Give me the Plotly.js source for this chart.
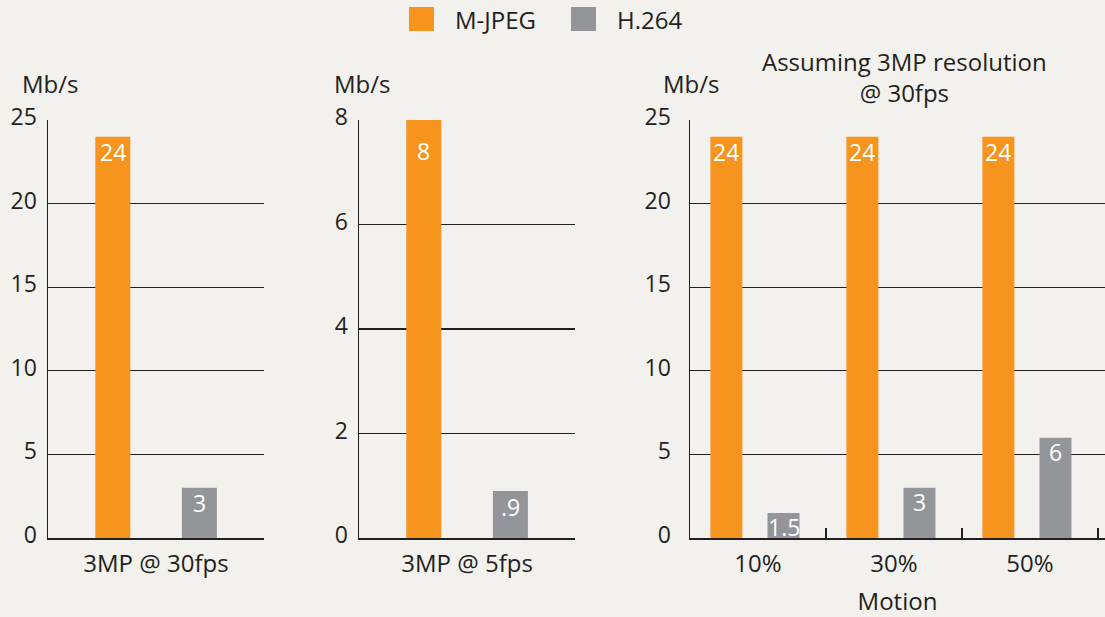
<!DOCTYPE html>
<html>
<head>
<meta charset="utf-8">
<script src="https://cdn.plot.ly/plotly-3.0.1.min.js"></script>
<style>html,body{margin:0;padding:0;background:#f3f1ed;}#chart{width:1105px;height:617px;}</style>
</head>
<body>
<div id="chart"></div>
<script>
// ---- data ----
const seriesNames = ["M-JPEG", "H.264"];
const cat1 = ["3MP @ 30fps"];
const mjpeg1 = [24];
const h2641 = [3];
const mjpegLabels1 = ["24"];
const h264Labels1 = ["3"];

const cat2 = ["3MP @ 5fps"];
const mjpeg2 = [8];
const h2642 = [0.9];
const mjpegLabels2 = ["8"];
const h264Labels2 = [".9"];

const cat3 = ["10%", "30%", "50%"];
const mjpeg3 = [24, 24, 24];
const h2643 = [1.5, 3, 6];
const mjpegLabels3 = ["24", "24", "24"];
const h264Labels3 = ["1.5", "3", "6"];

const yTicks12 = [0, 5, 10, 15, 20, 25];
const yTicks2 = [0, 2, 4, 6, 8];
const unitLabel = "Mb/s";
const panel3Title = "Assuming 3MP resolution<br>@ 30fps";
const panel3XTitle = "Motion";

// ---- style ----
const ORANGE = "#f7941d", GRAY = "#939598", INK = "#231f20", BG = "#f3f1ed";
const FONT = "Open Sans";
const FS = 24;
const W = 1105, H = 617;
const px = v => v / W, py = v => 1 - v / H;

// bar geometry (in category units) per panel; label vertical shifts in px per series
const panels = [
  {cats: cat1, series: [[mjpeg1, mjpegLabels1], [h2641, h264Labels1]], xa: "x", ya: "y", offs: [-0.281, 0.12], w: 0.162, labelShift: [2, 2]},
  {cats: cat2, series: [[mjpeg2, mjpegLabels2], [h2642, h264Labels2]], xa: "x2", ya: "y2", offs: [-0.281, 0.12], w: 0.162, labelShift: [-14, 1]},
  {cats: cat3, series: [[mjpeg3, mjpegLabels3], [h2643, h264Labels3]], xa: "x3", ya: "y3", offs: [-0.35, 0.07], w: 0.235, labelShift: [2, 3]}
];
const colors = [ORANGE, GRAY];

const data = [];
const annotations = [];
panels.forEach(p => {
  p.series.forEach(([vals, labels], s) => {
    data.push({
      type: "bar", x: p.cats, y: vals, xaxis: p.xa, yaxis: p.ya,
      marker: {color: colors[s], line: {width: 0}},
      offset: p.offs[s], width: p.w, showlegend: false, hoverinfo: "x+y"
    });
    vals.forEach((v, i) => annotations.push({
      xref: p.xa, yref: p.ya, x: i + p.offs[s] + p.w / 2, y: v,
      xanchor: "center", yanchor: "top", yshift: p.labelShift[s], borderpad: 0,
      text: labels[i], showarrow: false,
      font: {family: FONT, size: 23, color: "#ffffff"}
    }));
  });
});

const ydom = [py(538), py(120)];
function xAxis(dom, range, anchor, title) {
  const a = {
    domain: dom, range: range, anchor: anchor, type: "category",
    showline: true, linecolor: INK, linewidth: 1.5, mirror: false,
    ticks: "inside", tickson: "boundaries", ticklen: 10, tickwidth: 1.2, tickcolor: INK,
    showgrid: false, zeroline: false, automargin: false, fixedrange: true,
    ticklabelstandoff: 4,
    tickfont: {family: FONT, size: FS, color: INK}
  };
  if (title) a.title = {text: title, font: {family: FONT, size: FS, color: INK}, standoff: 22};
  return a;
}
function yAxis(range, ticks, anchor, standoff) {
  return {
    domain: ydom, range: range, anchor: anchor, tickvals: ticks, ticktext: ticks.map(String),
    showline: true, linecolor: INK, linewidth: 1.5, ticks: "",
    showgrid: true, gridcolor: INK, gridwidth: 1.2, zeroline: false,
    automargin: false, fixedrange: true, ticklabelstandoff: standoff, ticklabelshift: -3,
    tickfont: {family: FONT, size: 23, color: INK}
  };
}

const legendItems = [
  {name: seriesNames[0], color: ORANGE, sx: 409, tx: 453},
  {name: seriesNames[1], color: GRAY, sx: 571, tx: 615}
];
const shapes = legendItems.map(it => ({
  type: "rect", xref: "paper", yref: "paper",
  x0: px(it.sx), x1: px(it.sx + 25), y0: py(31), y1: py(7),
  fillcolor: it.color, line: {width: 0}
}));
legendItems.forEach(it => annotations.push({
  xref: "paper", yref: "paper", x: px(it.tx), y: py(19), xanchor: "left", yanchor: "middle",
  text: it.name, showarrow: false, font: {family: FONT, size: FS, color: INK}
}));
[20, 332, 661].forEach(x => annotations.push({
  xref: "paper", yref: "paper", x: px(x), y: py(84), xanchor: "left", yanchor: "middle",
  text: unitLabel, showarrow: false, font: {family: FONT, size: FS, color: INK}
}));
annotations.push({
  xref: "paper", yref: "paper", x: px(904), y: py(77), xanchor: "center", yanchor: "middle",
  text: panel3Title, showarrow: false, font: {family: FONT, size: FS, color: INK}
});

const layout = {
  width: W, height: H, margin: {l: 0, r: 0, t: 0, b: 0},
  paper_bgcolor: BG, plot_bgcolor: BG, showlegend: false,
  barmode: "group",
  xaxis: xAxis([px(48), px(264)], [-0.5, 0.5], "y"),
  yaxis: yAxis([0, 25], yTicks12, "x", 5),
  xaxis2: xAxis([px(359), px(575)], [-0.5, 0.5], "y2"),
  yaxis2: yAxis([0, 8], yTicks2, "x2", 5),
  xaxis3: xAxis([px(690), 1], [-0.5, 2.5515], "y3", panel3XTitle),
  yaxis3: yAxis([0, 25], yTicks12, "x3", 13),
  shapes: shapes, annotations: annotations,
  font: {family: FONT, color: INK}
};

Plotly.newPlot("chart", data, layout, {displayModeBar: false, staticPlot: true});
</script>
</body>
</html>
